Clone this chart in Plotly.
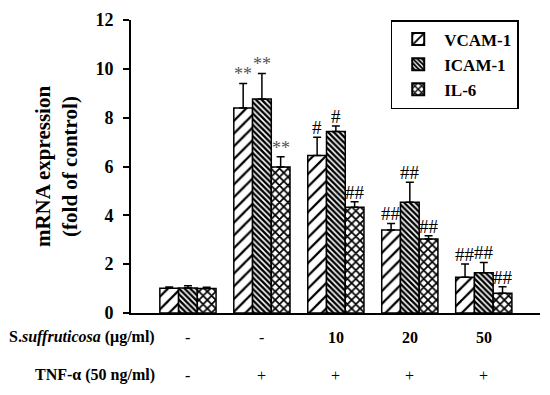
import plotly.graph_objects as go

groups = [0, 1, 2, 3, 4]
s_labels = ["-", "-", "10", "20", "50"]
tnf_labels = ["-", "+", "+", "+", "+"]

vcam = [1.01, 8.40, 6.45, 3.40, 1.46]
vcam_err = [0.05, 1.00, 0.75, 0.27, 0.55]
icam = [1.02, 8.76, 7.43, 4.54, 1.65]
icam_err = [0.10, 1.05, 0.23, 0.82, 0.42]
il6 = [1.00, 5.98, 4.33, 3.03, 0.81]
il6_err = [0.05, 0.42, 0.23, 0.13, 0.26]

vcam_sig = ["", "**", "#", "##", "##"]
icam_sig = ["", "**", "#", "##", "##"]
il6_sig = ["", "**", "##", "##", "##"]

FONT = "Liberation Serif"

series = [
    ("VCAM-1", vcam, vcam_err, vcam_sig, dict(shape="/", size=9, solidity=0.25)),
    ("ICAM-1", icam, icam_err, icam_sig, dict(shape="\\", size=4, solidity=0.6)),
    ("IL-6", il6, il6_err, il6_sig, dict(shape="x", size=6, solidity=0.5)),
]

fig = go.Figure()
for name, vals, err, sig, pat in series:
    fig.add_trace(go.Bar(
        x=groups, y=vals, name=f"<b>{name}</b>",
        marker=dict(color="white", line=dict(color="black", width=1.5),
                    pattern=dict(fgcolor="black", bgcolor="white", fillmode="replace", **pat)),
        error_y=dict(type="data", symmetric=False, array=err,
                     arrayminus=[0] * len(err), color="black", thickness=1.5, width=4),
    ))

bw = 0.76 / 3
offsets = [-bw, 0, bw]
for (name, vals, err, sig, pat), off in zip(series, offsets):
    for g, v, e, s in zip(groups, vals, err, sig):
        if s:
            fig.add_annotation(
                x=g + off, y=v + e, text=s, showarrow=False, yanchor="bottom",
                yshift=-3, font=dict(family=FONT, size=19 if s.startswith("#") else 18,
                                     color="#555" if s == "**" else "black"))

row_font = dict(family=FONT, size=16, color="black")
def fmt(s):
    return s if s in ("-", "+") else f"<b>{s}</b>"
for g, s, t in zip(groups, s_labels, tnf_labels):
    fig.add_annotation(x=g, y=-0.082, yref="paper", text=fmt(s),
                       showarrow=False, font=row_font, yanchor="middle")
    fig.add_annotation(x=g, y=-0.212, yref="paper", text=fmt(t),
                       showarrow=False, font=row_font, yanchor="middle")
fig.add_annotation(x=0.064, xref="paper", y=-0.082, yref="paper", xanchor="right",
                   text="<b>S.<i>suffruticosa</i> (μg/ml)</b>", showarrow=False,
                   font=row_font, yanchor="middle")
fig.add_annotation(x=0.064, xref="paper", y=-0.212, yref="paper", xanchor="right",
                   text="<b>TNF-α (50 ng/ml)</b>", showarrow=False,
                   font=row_font, yanchor="middle")

fig.update_layout(
    width=542, height=387,
    margin=dict(l=123, r=10, t=12, b=82),
    plot_bgcolor="white", paper_bgcolor="white",
    barmode="group", bargap=0.24, bargroupgap=0,
    font=dict(family=FONT, color="black"),
    showlegend=True,
    legend=dict(x=0.635, y=1.0, xanchor="left", yanchor="top",
                bordercolor="black", borderwidth=1.5, bgcolor="white",
                font=dict(family=FONT, size=17), itemwidth=42,
                itemsizing="constant", tracegroupgap=0),
    xaxis=dict(range=[-0.77, 4.76], showline=True, linecolor="black", linewidth=2,
               showticklabels=False, ticks="", showgrid=False, zeroline=False,
               automargin=False),
    yaxis=dict(range=[0, 12], tickvals=[0, 2, 4, 6, 8, 10, 12],
               showline=True, linecolor="black", linewidth=2,
               ticks="outside", ticklen=6, tickwidth=2, tickcolor="black",
               showgrid=False, zeroline=False, automargin=False,
               ticklabelstandoff=6,
               tickfont=dict(family=FONT, size=18, weight="bold"),
               title=dict(text="<b>mRNA expression<br>(fold of control)</b>",
                          font=dict(family=FONT, size=21), standoff=12)),
)

fig.write_html("out.html")
